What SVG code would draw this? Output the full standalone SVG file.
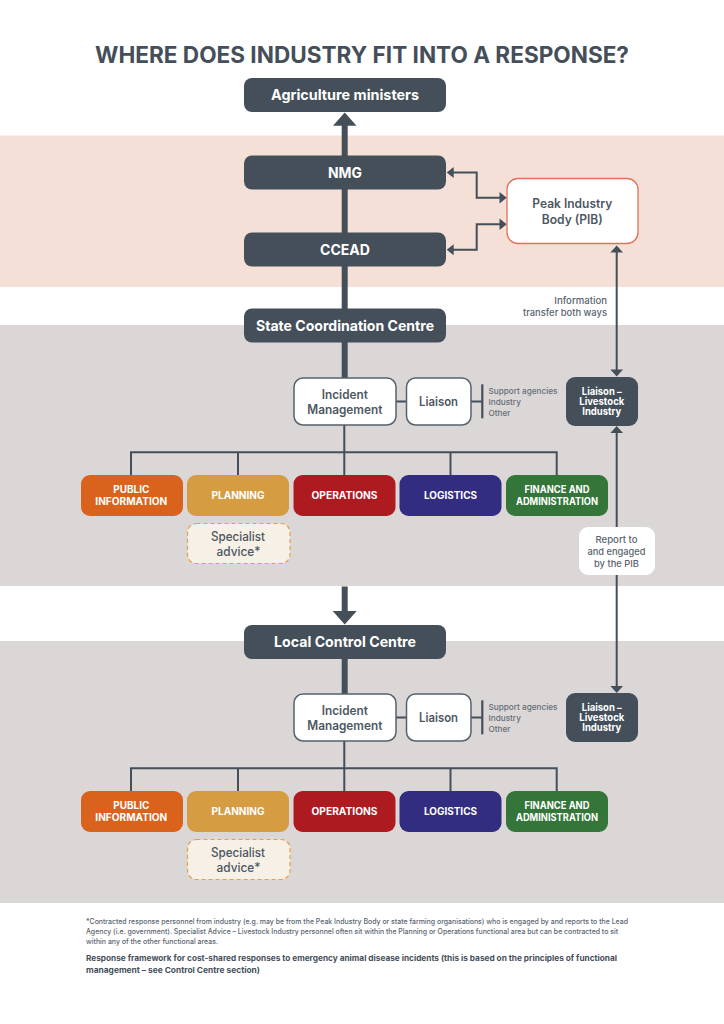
<svg xmlns="http://www.w3.org/2000/svg" width="724" height="1024" viewBox="0 0 724 1024">
<style>
text{font-family:"Inter","Liberation Sans",sans-serif;text-anchor:middle}
.dk{fill:#444f5a}
.h{font-weight:700;font-size:14.5px;fill:#fff}
.f{font-weight:700;font-size:10px;fill:#fff}
.g{font-weight:600;font-size:12.5px;fill:#4d5762}
.wb{fill:#fff;stroke:#56616c;stroke-width:1.5}
.s{font-weight:500;font-size:8.2px;fill:#666e78;text-anchor:start}
.l{font-weight:500;font-size:9.2px;fill:#59636e}
.e{text-anchor:end}
.m{font-weight:500}
.sp{fill:#f7f0e7;stroke:#e0a04c;stroke-width:1.2;stroke-dasharray:4 3}
.n{font-weight:500;font-size:7.2px;fill:#59636e;text-anchor:start}
.b{font-weight:700;font-size:8.1px;fill:#444f5a;text-anchor:start}
.c{fill:none;stroke:#444f5a}
</style>
<defs>
<g id="tree">
<path class="c" stroke-width="2" d="M131 475V452.300H556.700V475M238 452.300V475M344.300 425V475M450.500 452.300V475"/>
<path class="c" stroke-width="2" d="M396 401.400H406.500M471 401.400H482.300"/>
<path class="c" stroke-width="2.200" d="M482.300 384.300V418.300"/>
</g>
</defs>
<rect width="724" height="1024" fill="#fff"/>
<g id="bands">
<rect y="135.500" width="724" height="151.500" fill="#f4e0d6"/>
<rect y="325" width="724" height="261" fill="#dbd7d6"/>
<rect y="641" width="724" height="262" fill="#dbd7d6"/>
</g>
<text id="title" x="362" y="63" font-size="22.500" font-weight="700" fill="#444f5a" textLength="534" lengthAdjust="spacingAndGlyphs">WHERE DOES INDUSTRY FIT INTO A RESPONSE?</text>
<g id="connectors">
<path class="c" stroke-width="6" d="M344.700 124V378"/>
<path class="dk" d="M344.700 112.500L356.500 125.700H333Z"/>
<path class="c" stroke-width="6" d="M344.700 586.500V614"/>
<path class="dk" d="M344.700 624.500L332.700 611H356.700Z"/>
<path class="c" stroke-width="6" d="M344.700 659V694"/>
<path class="c" stroke-width="2" d="M452 172.500H476.700V197.700H500M452 249.700H476.700V224.300H500"/>
<path class="dk" d="M446.700 172.500L453.700 167V178ZM506.700 197.700L499.500 192V203.400ZM446.700 249.700L453.700 244.200V255.200ZM506.700 224.300L499.500 218.600V230Z"/>
<path class="c" stroke-width="2" d="M616.700 250V372M616.700 431V527M616.700 575V688"/>
<path class="dk" d="M616.700 245.500L623 252.500H610.400ZM616.700 376.500L623 369.500H610.400ZM616.700 426L623 433H610.400ZM616.700 693L623 686H610.400Z"/>
<use href="#tree"/>
<use href="#tree" y="316"/>
</g>
<g id="agri"><rect class="dk" x="244" y="78" width="202" height="34" rx="8"/><text class="h" x="345" y="100" textLength="148" lengthAdjust="spacingAndGlyphs">Agriculture ministers</text></g>
<g id="nmg"><rect class="dk" x="244" y="155.500" width="202" height="34" rx="8"/><text class="h" x="345" y="177.500" textLength="34" lengthAdjust="spacingAndGlyphs">NMG</text></g>
<g id="ccead"><rect class="dk" x="244" y="232.500" width="202" height="34" rx="8"/><text class="h" x="345" y="254.500" textLength="50" lengthAdjust="spacingAndGlyphs">CCEAD</text></g>
<g id="scc"><rect class="dk" x="244" y="308.500" width="202" height="34" rx="8"/><text class="h" x="345" y="330.500" textLength="178" lengthAdjust="spacingAndGlyphs">State Coordination Centre</text></g>
<g id="lcc"><rect class="dk" x="244" y="625" width="202" height="34" rx="8"/><text class="h" x="345" y="647" textLength="142" lengthAdjust="spacingAndGlyphs">Local Control Centre</text></g>
<g id="pib"><rect x="507" y="178.500" width="131" height="65" rx="11" fill="#fff" stroke="#e4705a" stroke-width="1.300"/><text class="g" x="572.300" y="207.500" textLength="80" lengthAdjust="spacingAndGlyphs">Peak Industry</text><text class="g" x="572.300" y="223.500" textLength="61" lengthAdjust="spacingAndGlyphs">Body (PIB)</text></g>
<g id="transfer-label"><text class="l e" x="607" y="304" textLength="52.700" lengthAdjust="spacingAndGlyphs">Information</text><text class="l e" x="607" y="316" textLength="84" lengthAdjust="spacingAndGlyphs">transfer both ways</text></g>
<g id="report-label"><rect x="579" y="527" width="76" height="48" rx="9" fill="#fff"/><text class="l" x="616.500" y="542.500" textLength="42" lengthAdjust="spacingAndGlyphs">Report to</text><text class="l" x="616.500" y="554.500" textLength="58" lengthAdjust="spacingAndGlyphs">and engaged</text><text class="l" x="616.500" y="566.500" textLength="45" lengthAdjust="spacingAndGlyphs">by the PIB</text></g>

<g id="incident1"><rect class="wb" x="294" y="378" width="102" height="47" rx="9"/><text class="g" x="344.800" y="398.500" textLength="46" lengthAdjust="spacingAndGlyphs">Incident</text><text class="g" x="344.800" y="413.500" textLength="75" lengthAdjust="spacingAndGlyphs">Management</text></g>
<g id="liaison1"><rect class="wb" x="406.500" y="378" width="64.500" height="47" rx="9"/><text class="g" x="438.500" y="406" textLength="39" lengthAdjust="spacingAndGlyphs">Liaison</text></g>
<g id="support1"><text class="s" x="488.500" y="393.500">Support agencies</text><text class="s" x="488.500" y="404.500">Industry</text><text class="s" x="488.500" y="415.500">Other</text></g>
<g id="livestock1"><rect class="dk" x="566" y="377" width="72" height="49" rx="9"/><text class="f" x="601.800" y="395" textLength="40" lengthAdjust="spacingAndGlyphs">Liaison –</text><text class="f" x="601.800" y="405" textLength="45" lengthAdjust="spacingAndGlyphs">Livestock</text><text class="f" x="601.800" y="415" textLength="39" lengthAdjust="spacingAndGlyphs">Industry</text></g>
<g id="public1"><rect x="81" y="475" width="102" height="41" rx="9" fill="#d9621c"/><text class="f" x="131.300" y="493" textLength="36" lengthAdjust="spacingAndGlyphs">PUBLIC</text><text class="f" x="131.300" y="505" textLength="72" lengthAdjust="spacingAndGlyphs">INFORMATION</text></g>
<g id="planning1"><rect x="187" y="475" width="102" height="41" rx="9" fill="#d69c42"/><text class="f" x="238" y="499" textLength="53" lengthAdjust="spacingAndGlyphs">PLANNING</text></g>
<g id="operations1"><rect x="293.500" y="475" width="102" height="41" rx="9" fill="#ad1a20"/><text class="f" x="344.500" y="499" textLength="66" lengthAdjust="spacingAndGlyphs">OPERATIONS</text></g>
<g id="logistics1"><rect x="399.500" y="475" width="102" height="41" rx="9" fill="#322d80"/><text class="f" x="450.500" y="499" textLength="53" lengthAdjust="spacingAndGlyphs">LOGISTICS</text></g>
<g id="finance1"><rect x="506" y="475" width="102" height="41" rx="9" fill="#34763a"/><text class="f" x="557" y="493" textLength="65" lengthAdjust="spacingAndGlyphs">FINANCE AND</text><text class="f" x="557" y="505" textLength="82" lengthAdjust="spacingAndGlyphs">ADMINISTRATION</text></g>
<g id="specialist1"><rect class="sp" x="187.500" y="523.500" width="102.500" height="40" rx="9"/><text class="g m" x="238" y="540.500" textLength="54" lengthAdjust="spacingAndGlyphs">Specialist</text><text class="g m" x="238.500" y="555.500" textLength="44" lengthAdjust="spacingAndGlyphs">advice*</text></g>

<g id="incident2"><rect class="wb" x="294" y="694" width="102" height="47" rx="9"/><text class="g" x="344.800" y="714.500" textLength="46" lengthAdjust="spacingAndGlyphs">Incident</text><text class="g" x="344.800" y="729.500" textLength="75" lengthAdjust="spacingAndGlyphs">Management</text></g>
<g id="liaison2"><rect class="wb" x="406.500" y="694" width="64.500" height="47" rx="9"/><text class="g" x="438.500" y="722" textLength="39" lengthAdjust="spacingAndGlyphs">Liaison</text></g>
<g id="support2"><text class="s" x="488.500" y="709.500">Support agencies</text><text class="s" x="488.500" y="720.500">Industry</text><text class="s" x="488.500" y="731.500">Other</text></g>
<g id="livestock2"><rect class="dk" x="566" y="693" width="72" height="49" rx="9"/><text class="f" x="601.800" y="711" textLength="40" lengthAdjust="spacingAndGlyphs">Liaison –</text><text class="f" x="601.800" y="721" textLength="45" lengthAdjust="spacingAndGlyphs">Livestock</text><text class="f" x="601.800" y="731" textLength="39" lengthAdjust="spacingAndGlyphs">Industry</text></g>
<g id="public2"><rect x="81" y="791" width="102" height="41" rx="9" fill="#d9621c"/><text class="f" x="131.300" y="809" textLength="36" lengthAdjust="spacingAndGlyphs">PUBLIC</text><text class="f" x="131.300" y="821" textLength="72" lengthAdjust="spacingAndGlyphs">INFORMATION</text></g>
<g id="planning2"><rect x="187" y="791" width="102" height="41" rx="9" fill="#d69c42"/><text class="f" x="238" y="815" textLength="53" lengthAdjust="spacingAndGlyphs">PLANNING</text></g>
<g id="operations2"><rect x="293.500" y="791" width="102" height="41" rx="9" fill="#ad1a20"/><text class="f" x="344.500" y="815" textLength="66" lengthAdjust="spacingAndGlyphs">OPERATIONS</text></g>
<g id="logistics2"><rect x="399.500" y="791" width="102" height="41" rx="9" fill="#322d80"/><text class="f" x="450.500" y="815" textLength="53" lengthAdjust="spacingAndGlyphs">LOGISTICS</text></g>
<g id="finance2"><rect x="506" y="791" width="102" height="41" rx="9" fill="#34763a"/><text class="f" x="557" y="809" textLength="65" lengthAdjust="spacingAndGlyphs">FINANCE AND</text><text class="f" x="557" y="821" textLength="82" lengthAdjust="spacingAndGlyphs">ADMINISTRATION</text></g>
<g id="specialist2"><rect class="sp" x="187.500" y="839.500" width="102.500" height="40" rx="9"/><text class="g m" x="238" y="856.500" textLength="54" lengthAdjust="spacingAndGlyphs">Specialist</text><text class="g m" x="238.500" y="871.500" textLength="44" lengthAdjust="spacingAndGlyphs">advice*</text></g>

<g id="notes">
<text class="n" x="86" y="923.500" textLength="542" lengthAdjust="spacingAndGlyphs">*Contracted response personnel from industry (e.g. may be from the Peak Industry Body or state farming organisations) who is engaged by and reports to the Lead</text>
<text class="n" x="86" y="933.500" textLength="532" lengthAdjust="spacingAndGlyphs">Agency (i.e. government). Specialist Advice – Livestock Industry personnel often sit within the Planning or Operations functional area but can be contracted to sit</text>
<text class="n" x="86" y="943.500" textLength="132" lengthAdjust="spacingAndGlyphs">within any of the other functional areas.</text>
<text class="b" x="86" y="960.500" textLength="531" lengthAdjust="spacingAndGlyphs">Response framework for cost-shared responses to emergency animal disease incidents (this is based on the principles of functional</text>
<text class="b" x="86" y="972.500" textLength="174" lengthAdjust="spacingAndGlyphs">management – see Control Centre section)</text>
</g>
</svg>
